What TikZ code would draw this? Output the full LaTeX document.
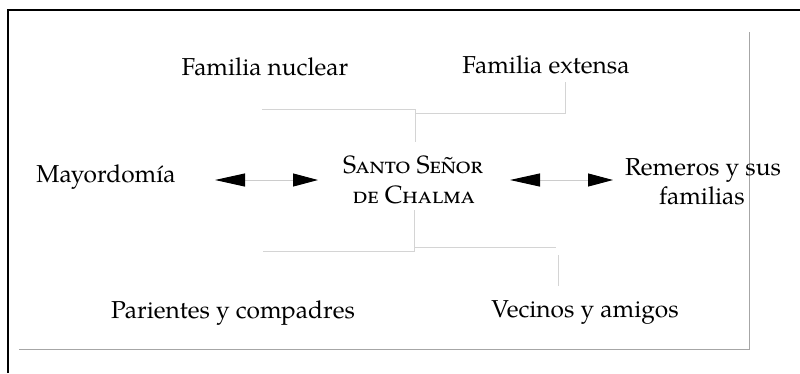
\documentclass[tikz,border=0pt]{standalone}
\usepackage{fontspec}
\setmainfont{TeX Gyre Pagella}
\usetikzlibrary{arrows.meta}
\begin{document}
\begin{tikzpicture}[x=1pt,y=-1pt,
  lbl/.style={inner sep=0pt, anchor=base, font=\fontsize{24.5}{29}\selectfont},
  sc/.style={inner sep=0pt, anchor=base, font=\fontsize{25}{30}\selectfont\scshape},
  conn/.style={draw=black!17, line width=1pt},
  frameout/.style={draw=black, line width=1.3pt},
  framein/.style={draw=black!35, line width=1pt},
  biarrow/.style={draw=black!20, line width=1pt,
    {Triangle[length=30pt,width=13pt,color=black]}-{Triangle[length=25pt,width=13pt,color=black]}}
]
\useasboundingbox (0,0) rectangle (800,373);
\fill[white] (0,0) rectangle (800,373);

% frames
\draw[frameout] (8,373) -- (8,10) -- (800,10);
\draw[framein] (19,349) -- (749,349) -- (749,32);

% labels
\node[lbl] (fn) at (265,75) {Familia nuclear};
\node[lbl] (fe) at (546,73) {Familia extensa};
\node[lbl] (my) at (106,182) {Mayordomía};
\node[sc] (s1) at (413,173) {Santo Señor};
\node[sc] (s2) at (414,203) {de Chalma};
\node[lbl] (r1) at (703,175) {Remeros y sus};
\node[lbl] (r2) at (702,204) {familias};
\node[lbl] (pc) at (233,318) {Parientes y compadres};
\node[lbl] (va) at (585,317) {Vecinos y amigos};

% connector points
\coordinate (fnA) at (262,109);
\coordinate (cTopA) at (415,109);
\coordinate (cTopB) at (415,142);
\coordinate (cTopC) at (415,113);
\coordinate (feB) at (565,113);
\coordinate (feA) at (565,82);
\coordinate (cBotA) at (414,210);
\coordinate (cBotB) at (414,251);
\coordinate (pcA) at (263,251);
\coordinate (cBotC) at (414,247);
\coordinate (vaB) at (556,247);
\coordinate (vaC) at (558,255);
\coordinate (vaA) at (558,286);

\draw[conn] (fnA) -- (cTopA) -- (cTopB);
\draw[conn] (cTopC) -- (feB) -- (feA);
\draw[conn] (cBotA) -- (cBotB) -- (pcA);
\draw[conn] (cBotC) -- (vaB);
\draw[conn] (vaC) -- (vaA);

% arrows
\coordinate (a1l) at (215,180);
\coordinate (a1r) at (318,180);
\coordinate (a2l) at (510,180);
\coordinate (a2r) at (613,180);
\draw[biarrow] (a1l) -- (a1r);
\draw[biarrow] (a2l) -- (a2r);
\end{tikzpicture}
\end{document}
